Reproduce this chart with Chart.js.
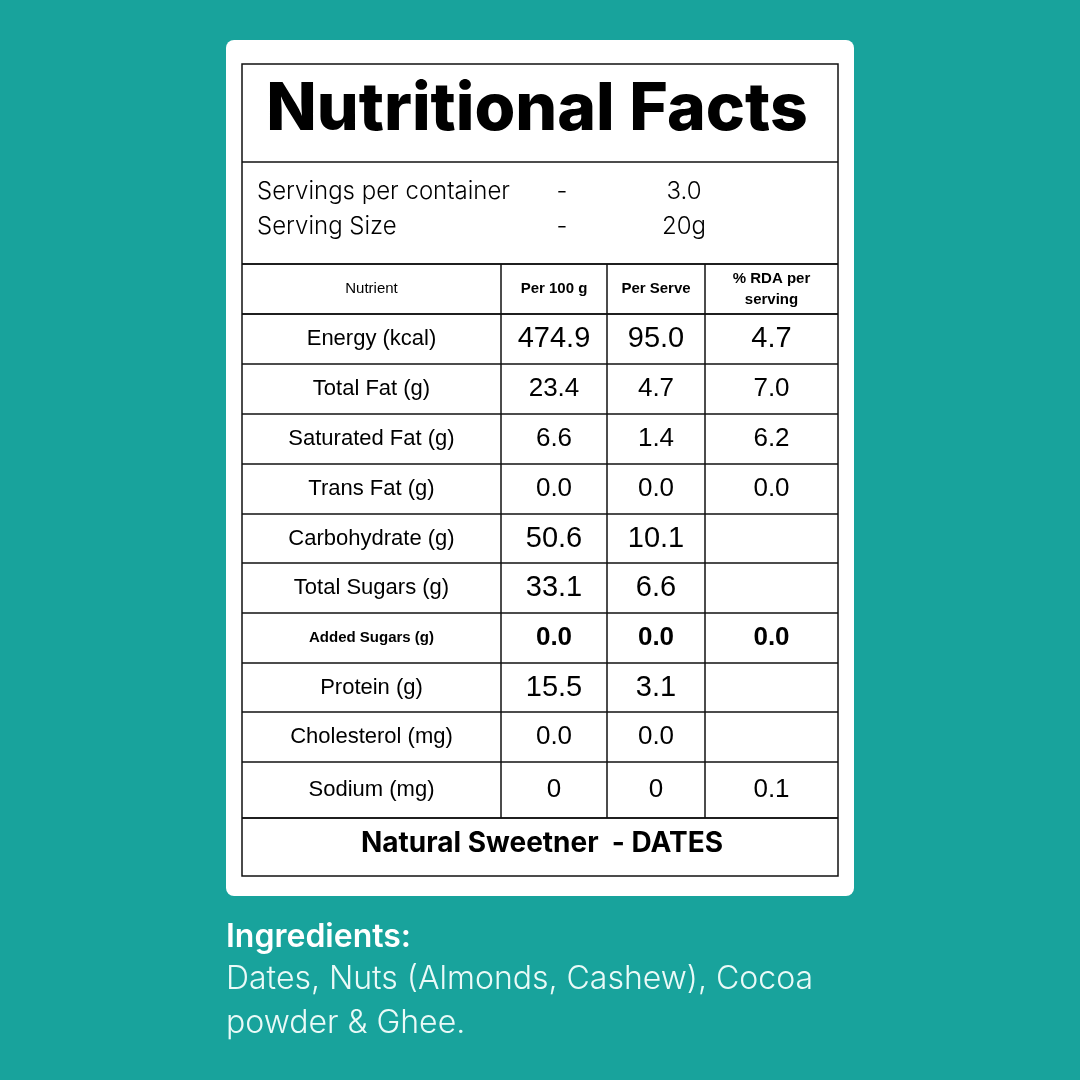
<!doctype html>
<html>
<head>
<meta charset="utf-8" />
<title>Nutritional Facts</title>
<style>
  html,body{margin:0;padding:0;background:#18a39c}
  canvas{display:block}
</style>
</head>
<body>
<canvas id="facts" width="1080" height="1080"></canvas>
<script src="https://cdn.jsdelivr.net/npm/chart.js@4.4.1/dist/chart.umd.min.js"></script>
<script>
  // table content
  const headers = ['Nutrient', 'Per 100 g', 'Per Serve', '% RDA per\nserving'];
  const nutrients = ['Energy (kcal)', 'Total Fat (g)', 'Saturated Fat (g)', 'Trans Fat (g)', 'Carbohydrate (g)',
    'Total Sugars (g)', 'Added Sugars (g)', 'Protein (g)', 'Cholesterol (mg)', 'Sodium (mg)'];
  const per100g = ['474.9', '23.4', '6.6', '0.0', '50.6', '33.1', '0.0', '15.5', '0.0', '0'];
  const perServe = ['95.0', '4.7', '1.4', '0.0', '10.1', '6.6', '0.0', '3.1', '0.0', '0'];
  const rda = ['4.7', '7.0', '6.2', '0.0', '', '', '0.0', '', '', '0.1'];
  const servings = [['Servings per container', '-', '3.0'], ['Serving Size', '-', '20g']];

  // layout (page pixels, mapped through the chart scales)
  const colEdges = [242, 501, 607, 705, 838];
  const rowEdges = [314, 364, 414, 464, 514, 563, 613, 663, 712, 762, 818];

  const tablePlugin = {
    id: 'table',
    afterDraw(chart) {
      const c = chart.ctx, X = v => chart.scales.x.getPixelForValue(v), Y = v => chart.scales.y.getPixelForValue(v);
      c.save();
      // card
      c.fillStyle = '#fff';
      c.beginPath(); c.roundRect(X(226), Y(40), X(854) - X(226), Y(896) - Y(40), 8); c.fill();
      c.strokeStyle = '#111'; c.lineWidth = 1.5;
      const line = (x1, y1, x2, y2) => { c.beginPath(); c.moveTo(X(x1), Y(y1)); c.lineTo(X(x2), Y(y2)); c.stroke(); };
      c.strokeRect(X(242), Y(64), X(838) - X(242), Y(876) - Y(64));
      [162, 264, 818].forEach(y => line(242, y, 838, y));
      line(242, 264, 838, 264);
      rowEdges.forEach(y => line(242, y, 838, y));
      colEdges.slice(1, -1).forEach(x => line(x, 264, x, 818));
      line(242, 314, 838, 314);

      c.fillStyle = '#000'; c.textBaseline = 'middle';
      // title
      c.font = '800 66px Inter'; c.textAlign = 'center';
      c.fillText('Nutritional Facts', X(537), Y(110));
      // servings
      c.font = '300 24px Inter';
      servings.forEach((s, i) => {
        const y = Y(192 + i * 35);
        c.textAlign = 'left'; c.fillText(s[0], X(257), y);
        c.textAlign = 'center'; c.fillText(s[1], X(562), y); c.fillText(s[2], X(684), y);
      });
      // header
      const mid = i => X((colEdges[i] + colEdges[i + 1]) / 2);
      headers.forEach((h, i) => {
        c.font = (i === 0 ? '400 ' : 'bold ') + '15px "Liberation Sans"';
        const parts = h.split('\n');
        parts.forEach((p, k) => c.fillText(p, mid(i), Y(289 + (k - (parts.length - 1) / 2) * 21)));
      });
      // rows
      nutrients.forEach((n, r) => {
        const y = Y((rowEdges[r] + rowEdges[r + 1]) / 2);
        const bold = n === 'Added Sugars (g)';
        c.font = bold ? 'bold 15px "Liberation Sans"' : '22px "Liberation Sans"';
        c.fillText(n, mid(0), y);
        const big = r === 0 || r === 4 || r === 5 || r === 7;
        c.font = (bold ? 'bold ' : '') + (big ? '29px' : '26px') + ' "Liberation Sans"';
        c.fillText(per100g[r], mid(1), y);
        c.fillText(perServe[r], mid(2), y);
        c.fillText(rda[r], mid(3), y);
      });
      // footer
      c.font = 'bold 28px Inter';
      c.fillText('Natural Sweetner  - DATES', X(542), Y(844));
      // ingredients
      c.textAlign = 'left'; c.fillStyle = '#fff';
      c.font = '600 32px Inter'; c.fillText('Ingredients:', X(226), Y(937));
      c.fillStyle = '#eafaf8'; c.font = '300 32px Inter';
      c.fillText('Dates, Nuts (Almonds, Cashew), Cocoa', X(226), Y(979));
      c.fillText('powder & Ghee.', X(226), Y(1023));
      c.restore();
    }
  };

  new Chart(document.getElementById('facts'), {
    type: 'scatter',
    data: { datasets: [{ data: [] }] },
    options: {
      responsive: false, animation: false,
      layout: { padding: 0 },
      plugins: { legend: { display: false }, tooltip: { enabled: false } },
      scales: {
        x: { type: 'linear', min: 0, max: 1080, display: false },
        y: { type: 'linear', min: 0, max: 1080, reverse: true, display: false }
      }
    },
    plugins: [tablePlugin]
  });
</script>
</body>
</html>
